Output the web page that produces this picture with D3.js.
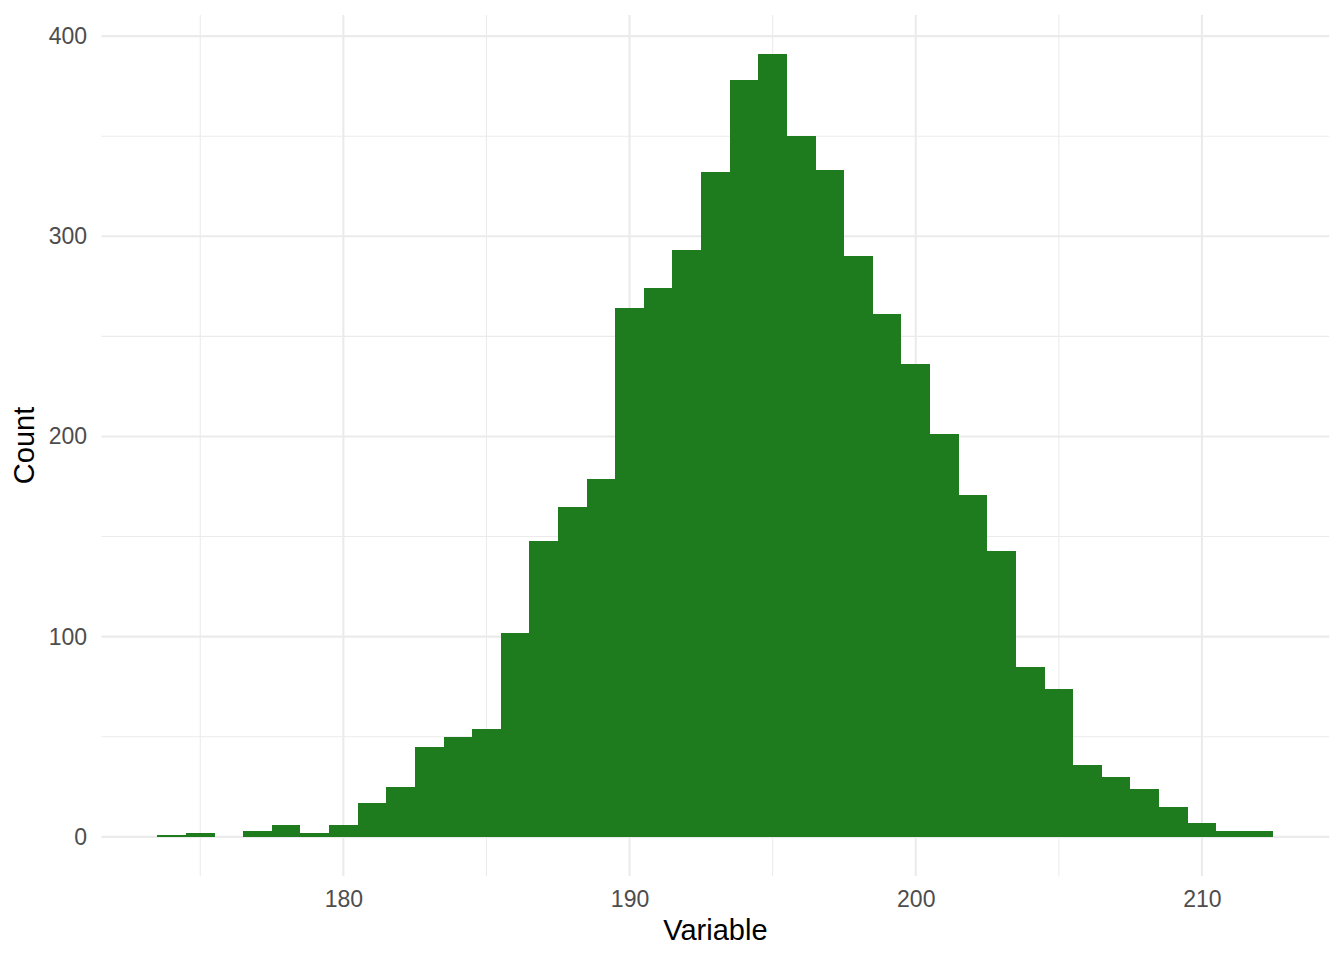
<!DOCTYPE html>
<html>
<head>
<meta charset="utf-8">
<script src="https://cdn.jsdelivr.net/npm/d3@7"></script>
<style>
	body { margin: 0; background: #fff; }
	svg text { font-family: "Liberation Sans", Arial, Helvetica, sans-serif; }
	.axis text { fill: #4d4d4d; font-size: 23px; }
	.axis-title { fill: #000; font-size: 29px; }
</style>
</head>
<body>
<div id="chart"></div>
<script>
// bin centres (binwidth 1) and counts
const binCenters = [174, 175, 176, 177, 178, 179, 180, 181, 182, 183, 184, 185, 186,
	187, 188, 189, 190, 191, 192, 193, 194, 195, 196, 197, 198, 199, 200,
	201, 202, 203, 204, 205, 206, 207, 208, 209, 210, 211, 212];
const counts = [1, 2, 0, 3, 6, 2, 6, 17, 25, 45, 50, 54, 102,
	148, 165, 179, 264, 274, 293, 332, 378, 391, 350, 333, 290, 261, 236,
	201, 171, 143, 85, 74, 36, 30, 24, 15, 7, 3, 3];
const binWidth = 1;

const xMajor = [180, 190, 200, 210];
const xMinor = [175, 185, 195, 205];
const yMajor = [0, 100, 200, 300, 400];
const yMinor = [50, 150, 250, 350];

const xTitle = 'Variable';
const yTitle = 'Count';

let full_width  = 1344,
	full_height = 960,
	margins     = {top: 15, right: 14.7, bottom: 84, left: 101.5},
	width       = full_width - margins.left - margins.right,
	height      = full_height - margins.top - margins.bottom;

let data = binCenters.map((c, i) => ({x0: c - binWidth / 2, x1: c + binWidth / 2, n: counts[i]}));

// ggplot style 5% expansion on both scales
let x_lo = d3.min(data, d => d.x0), x_hi = d3.max(data, d => d.x1);
let x_pad = (x_hi - x_lo) * 0.05;
let y_hi = d3.max(counts), y_pad = y_hi * 0.05;

let x = d3.scaleLinear()
	.domain([x_lo - x_pad, x_hi + x_pad])
	.range([0, width]);

let y = d3.scaleLinear()
	.domain([-y_pad, y_hi + y_pad])
	.range([height, 0]);

let svg = d3.select('#chart')
	.append('svg')
	.attr('width', full_width)
	.attr('height', full_height);

let g = svg.append('g')
	.attr('transform', 'translate(' + margins.left + ',' + margins.top + ')');

// grid
let grid = g.append('g').attr('stroke', '#ebebeb');

grid.selectAll('.minor-y').data(yMinor).enter().append('line')
	.attr('x1', 0).attr('x2', width)
	.attr('y1', d => y(d)).attr('y2', d => y(d))
	.attr('stroke-width', 1.07);

grid.selectAll('.minor-x').data(xMinor).enter().append('line')
	.attr('y1', 0).attr('y2', height)
	.attr('x1', d => x(d)).attr('x2', d => x(d))
	.attr('stroke-width', 1.07);

grid.selectAll('.major-y').data(yMajor).enter().append('line')
	.attr('x1', 0).attr('x2', width)
	.attr('y1', d => y(d)).attr('y2', d => y(d))
	.attr('stroke-width', 2.13);

grid.selectAll('.major-x').data(xMajor).enter().append('line')
	.attr('y1', 0).attr('y2', height)
	.attr('x1', d => x(d)).attr('x2', d => x(d))
	.attr('stroke-width', 2.13);

// bars
g.selectAll('.bar')
	.data(data.filter(d => d.n > 0))
	.enter()
	.append('rect')
	.attr('class', 'bar')
	.attr('x', d => x(d.x0))
	.attr('width', d => x(d.x1) - x(d.x0))
	.attr('y', d => y(d.n))
	.attr('height', d => y(0) - y(d.n))
	.attr('fill', '#1f7c1e')
	.attr('shape-rendering', 'crispEdges');

// axes
let xAxis = d3.axisBottom(x).tickValues(xMajor).tickSize(0).tickPadding(14.4);
let yAxis = d3.axisLeft(y).tickValues(yMajor).tickSize(0).tickPadding(14.5);

g.append('g')
	.attr('class', 'axis axis--x')
	.attr('transform', 'translate(0,' + height + ')')
	.call(xAxis)
	.call(a => a.select('.domain').remove());

g.append('g')
	.attr('class', 'axis axis--y')
	.call(yAxis)
	.call(a => a.select('.domain').remove());

svg.selectAll('.axis text').attr('font-family', null).attr('font-size', null);

svg.append('text')
	.attr('class', 'axis-title')
	.attr('x', margins.left + width / 2)
	.attr('y', 940)
	.attr('text-anchor', 'middle')
	.text(xTitle);

svg.append('text')
	.attr('class', 'axis-title')
	.attr('transform', 'translate(34,' + (margins.top + height / 2) + ') rotate(-90)')
	.attr('text-anchor', 'middle')
	.text(yTitle);
</script>
</body>
</html>
